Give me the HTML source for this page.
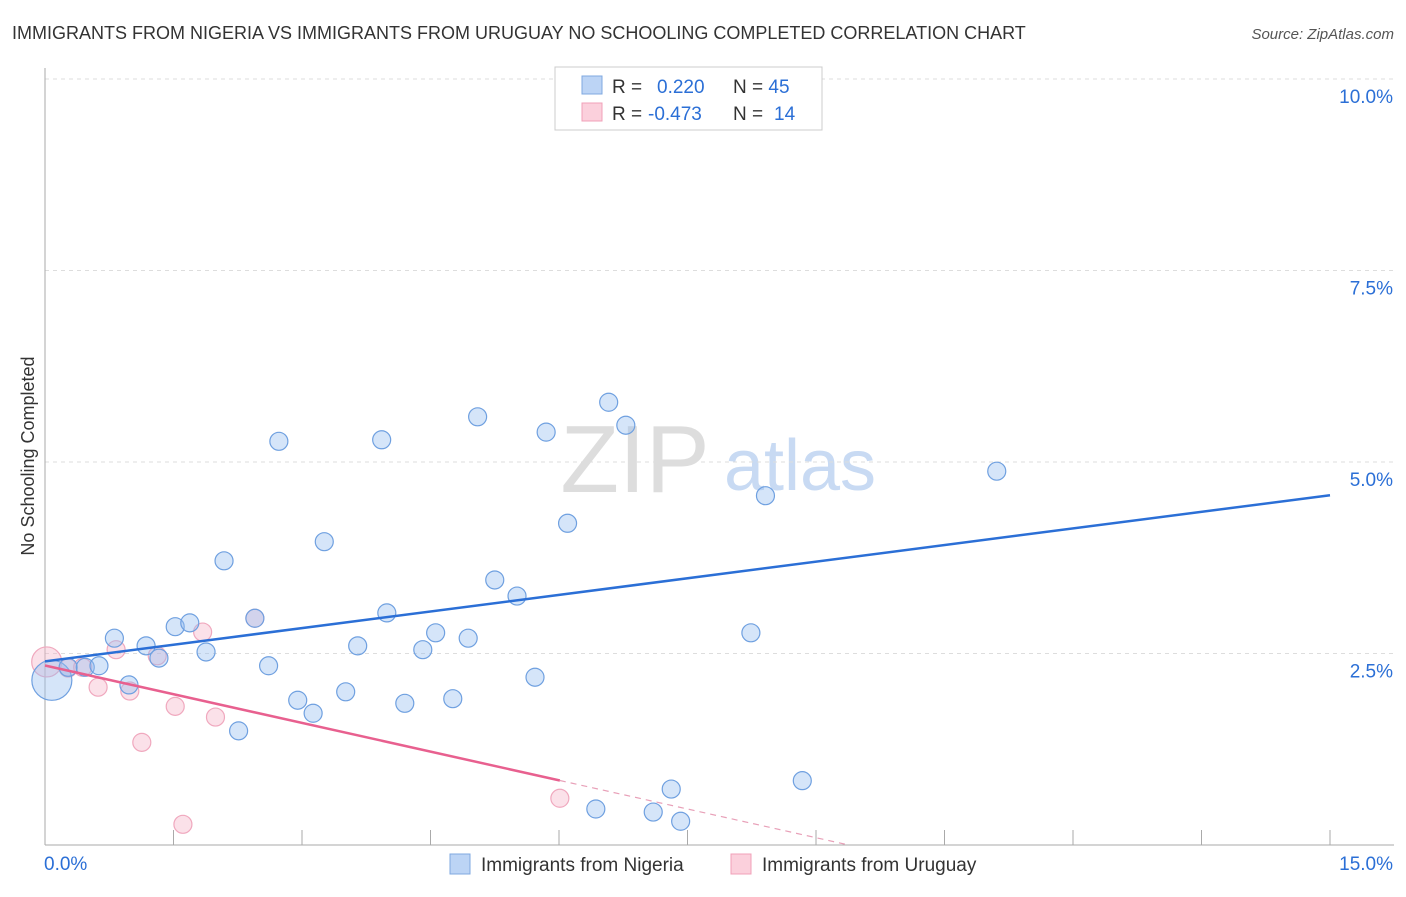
<!DOCTYPE html>
<html><head><meta charset="utf-8"><style>
body{margin:0;background:#fff;font-family:"Liberation Sans",sans-serif;}
svg text{font-family:"Liberation Sans",sans-serif;}
</style></head><body>
<svg width="1406" height="892">
<text x="12" y="39" font-size="18" fill="#333">IMMIGRANTS FROM NIGERIA VS IMMIGRANTS FROM URUGUAY NO SCHOOLING COMPLETED CORRELATION CHART</text>
<text x="1394" y="39" font-size="15" fill="#555" font-style="italic" text-anchor="end">Source: ZipAtlas.com</text>
<text x="635" y="492" font-size="96" fill="#ddd" font-family="Liberation Serif" text-anchor="middle">ZIP</text>
<text x="800" y="490" font-size="72" fill="#c8daf3" text-anchor="middle">atlas</text>
<g id="grid"></g>
<g id="axes"></g>
<g id="marks"></g>
<text transform="translate(34,456) rotate(-90)" font-size="18" fill="#333" text-anchor="middle">No Schooling Completed</text>
<g>
<rect x="555" y="67" width="267" height="63" fill="#fff" stroke="#ccc"/>
<rect x="582" y="76" width="20" height="18" fill="#bcd4f5" stroke="#7fa8e0"/>
<rect x="582" y="103" width="20" height="18" fill="#fbd0dc" stroke="#f0a0b8"/>
<text x="612" y="93" font-size="19" fill="#333">R = <tspan fill="#2b6fd6" x="657">0.220</tspan><tspan x="733" fill="#333">N = </tspan><tspan fill="#2b6fd6">45</tspan></text>
<text x="612" y="120" font-size="19" fill="#333">R = <tspan fill="#2b6fd6" x="648">-0.473</tspan><tspan x="733" fill="#333">N = </tspan><tspan fill="#2b6fd6" x="774">14</tspan></text>
</g>
<g>
<rect x="450" y="854" width="20" height="20" fill="#bcd4f5" stroke="#7fa8e0"/>
<text x="481" y="871" font-size="19" fill="#333">Immigrants from Nigeria</text>
<rect x="731" y="854" width="20" height="20" fill="#fbd0dc" stroke="#f0a0b8"/>
<text x="762" y="871" font-size="19" fill="#333">Immigrants from Uruguay</text>
</g>
</svg>
<script>
const nigeriaX=[0.08,0.27,0.47,0.63,0.81,0.98,1.18,1.33,1.52,1.69,1.88,2.09,2.26,2.45,2.61,2.73,2.95,3.13,3.26,3.51,3.65,3.93,3.99,4.20,4.41,4.56,4.76,4.94,5.05,5.25,5.51,5.72,5.85,6.10,6.43,6.58,6.78,7.10,7.31,7.42,7.84,8.24,8.41,8.84,11.11];
const nigeriaY=[2.15,2.32,2.32,2.34,2.70,2.09,2.60,2.44,2.85,2.90,2.52,3.71,1.49,2.96,2.34,5.27,1.89,1.72,3.96,2.00,2.60,5.29,3.03,1.85,2.55,2.77,1.91,2.70,5.59,3.46,3.25,2.19,5.39,4.20,0.47,5.78,5.48,0.43,0.73,0.31,9.74,2.77,4.56,0.84,4.88];
const uruguayX=[0.02,0.27,0.44,0.62,0.83,0.99,1.13,1.31,1.52,1.61,1.84,1.99,2.45,6.01];
const uruguayY=[2.39,2.31,2.32,2.06,2.55,2.01,1.34,2.47,1.81,0.27,2.78,1.67,2.96,0.61];
const xTicks=[0,1.5,3,4.5,6,7.5,9,10.5,12,13.5,15];
const yTicks=[2.5,5,7.5,10];
const yTickLabels=["2.5%","5.0%","7.5%","10.0%"];
const NS="http://www.w3.org/2000/svg";
const sx=v=>45+v/15*1285, sy=v=>845-v*76.6;
function mk(tag,attrs,parent){const e=document.createElementNS(NS,tag);for(const k in attrs)e.setAttribute(k,attrs[k]);parent.appendChild(e);return e;}
const grid=document.getElementById('grid'),axes=document.getElementById('axes'),marks=document.getElementById('marks');
yTicks.forEach((t,i)=>{
 const l=mk('line',{x1:45,x2:1394,y1:sy(t),y2:sy(t),stroke:'#ddd','stroke-dasharray':'4,4'},grid);
 
 
 const tx=mk('text',{x:1393,y:sy(t)+24,'font-size':19,fill:'#2b6fd6','text-anchor':'end'},axes);
 tx.textContent=yTickLabels[i];
 
 
});
const ax=mk('line',{x1:45,x2:1394,y1:845,y2:845,stroke:'#aaa'},axes);


const ay=mk('line',{x1:45,x2:45,y1:68,y2:845,stroke:'#aaa'},axes);


xTicks.forEach((t,i)=>{if(i===0)return;
 const l=mk('line',{x1:sx(t),x2:sx(t),y1:830,y2:845,stroke:'#aaa'},axes);
 
 
});
const xl0=mk('text',{x:44,y:870,'font-size':19,fill:'#2b6fd6'},axes);xl0.textContent='0.0%';


const xl1=mk('text',{x:1393,y:870,'font-size':19,fill:'#2b6fd6','text-anchor':'end'},axes);xl1.textContent='15.0%';


function fit(X,Y){const n=X.length;let mx=0,my=0;for(let i=0;i<n;i++){mx+=X[i];my+=Y[i];}mx/=n;my/=n;let a=0,b=0;for(let i=0;i<n;i++){a+=(X[i]-mx)*(Y[i]-my);b+=(X[i]-mx)**2;}const s=a/b;return [my-s*mx,s];}
function pts(X,Y,fill,stroke,name,big){X.forEach((x,i)=>{
 const r=(i===0&&big)?big:9;
 const c=mk('circle',{cx:sx(x),cy:sy(Y[i]),r:r,fill:fill,stroke:stroke,'stroke-width':1.2},marks);
 
 
});}
pts(uruguayX,uruguayY,'rgba(246,180,200,0.4)','#f0a8be','uruguay-point',15);
pts(nigeriaX,nigeriaY,'rgba(150,190,240,0.4)','#6fa0e0','nigeria-point',20);
const fb=fit(nigeriaX,nigeriaY);
const bl=mk('line',{x1:sx(0),y1:sy(fb[0]),x2:sx(15),y2:sy(fb[0]+15*fb[1]),stroke:'#2b6fd6','stroke-width':2.5},marks);


const fp=fit(uruguayX,uruguayY);
const xmax=Math.max(...uruguayX);
const pl=mk('line',{x1:sx(0),y1:sy(fp[0]),x2:sx(xmax),y2:sy(fp[0]+xmax*fp[1]),stroke:'#e8608f','stroke-width':2.5},marks);


const xz=Math.min(15,-fp[0]/fp[1]);
const pd=mk('line',{x1:sx(xmax),y1:sy(fp[0]+xmax*fp[1]),x2:sx(xz),y2:sy(fp[0]+xz*fp[1]),stroke:'#e8a0b8','stroke-width':1.2,'stroke-dasharray':'6,5'},marks);


</script>
</body></html>
